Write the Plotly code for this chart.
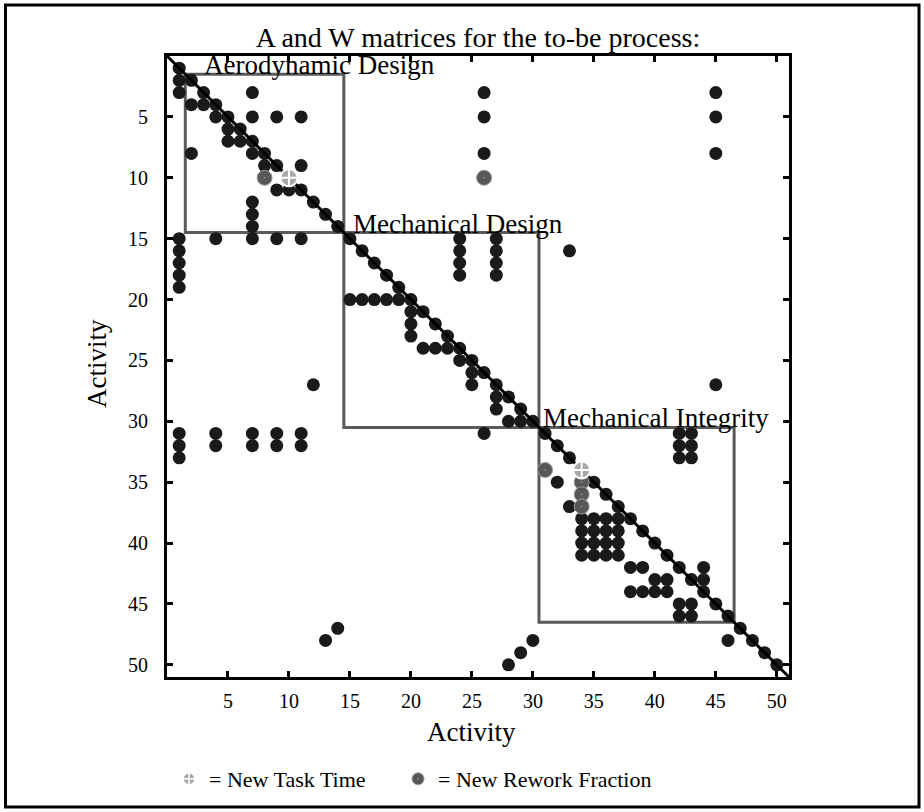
import plotly.graph_objects as go

# ---------------- data ----------------
n_activities = 50
diag_skip = [10, 34]  # diagonal cells drawn as "new task time" markers

# off-diagonal dependency dots (row = activity, col = activity)
dep_rows = [2, 3, 3, 3, 3, 4, 4, 5, 5, 5, 5, 5, 5, 6, 7, 7, 8, 8, 8, 8, 9, 9,
            11, 11, 12, 13, 14,
            15, 15, 15, 15, 15, 15, 15, 16, 16, 16, 16, 17, 17, 17, 18, 18, 18, 19,
            20, 20, 20, 20, 20, 21, 22, 23, 24, 24, 24, 25, 26, 27, 27, 27, 28, 29, 30, 30,
            31, 31, 31, 31, 31, 31, 31, 31, 32, 32, 32, 32, 32, 32, 32, 33, 33, 33,
            35, 37, 38, 38, 38, 38, 39, 39, 39, 39, 40, 40, 40, 40, 41, 41, 41, 41,
            42, 42, 42, 43, 43, 43, 44, 44, 44, 44, 45, 45, 46, 46,
            47, 48, 48, 48, 49, 50]
dep_cols = [1, 1, 7, 26, 45, 2, 3, 4, 7, 9, 11, 26, 45, 5, 5, 6, 2, 7, 26, 45, 8, 11,
            9, 10, 7, 7, 7,
            1, 4, 7, 9, 11, 24, 27, 1, 24, 27, 33, 1, 24, 27, 1, 24, 27, 1,
            15, 16, 17, 18, 19, 20, 20, 20, 21, 22, 23, 24, 25, 12, 25, 45, 27, 27, 28, 29,
            1, 4, 7, 9, 11, 26, 42, 43, 1, 4, 7, 9, 11, 42, 43, 1, 42, 43,
            32, 33, 34, 35, 36, 37, 34, 35, 36, 37, 34, 35, 36, 37, 34, 35, 36, 37,
            38, 39, 44, 40, 41, 44, 38, 39, 40, 41, 42, 43, 42, 43,
            14, 13, 30, 46, 29, 28]

# "new rework fraction" cells
rework_rows = [10, 10, 34, 35, 36, 37]
rework_cols = [8, 26, 31, 34, 34, 34]

# "new task time" cells
task_rows = [10, 34]
task_cols = [10, 34]

# block boundaries (activity index ranges) and names
block_starts = [2, 15, 31]
block_ends = [14, 30, 46]
block_names = ["Aerodynamic Design", "Mechanical Design", "Mechanical Integrity"]
block_label_x = [2.9, 15.1, 30.7]

tick_vals = [5, 10, 15, 20, 25, 30, 35, 40, 45, 50]

legend_names = ["= New Task Time", "= New Rework Fraction"]

# ---------------- figure ----------------
FONT = "Liberation Serif"
BLACK = "#1a1a1a"
BIG = 27

diag = [k for k in range(1, n_activities + 1) if k not in diag_skip]
all_rows = diag + dep_rows
all_cols = diag + dep_cols

fig = go.Figure()

fig.add_trace(go.Scatter(
    x=all_cols, y=all_rows, mode="markers",
    marker=dict(size=13, color=BLACK, line=dict(width=0)),
    showlegend=False, hoverinfo="skip"))

# diagonal line
fig.add_trace(go.Scatter(
    x=[0, n_activities + 1], y=[0, n_activities + 1], mode="lines",
    line=dict(color="black", width=3), showlegend=False, hoverinfo="skip"))

fig.add_trace(go.Scatter(
    x=rework_cols, y=rework_rows, mode="markers",
    marker=dict(size=15, color="#585858", symbol="circle-dot",
                line=dict(width=1, color="#9a9a9a")),
    showlegend=False, hoverinfo="skip"))

fig.add_trace(go.Scatter(
    x=task_cols, y=task_rows, mode="markers",
    marker=dict(size=17, color="#a8a8a8", symbol="circle-cross",
                line=dict(width=2, color="white")),
    showlegend=False, hoverinfo="skip"))

# legend-only traces
fig.add_trace(go.Scatter(
    x=[None], y=[None], mode="markers", name=legend_names[0] + "\u00a0" * 5,
    marker=dict(size=12, color="#a8a8a8", symbol="circle-cross",
                line=dict(width=1.5, color="white"))))
fig.add_trace(go.Scatter(
    x=[None], y=[None], mode="markers", name=legend_names[1],
    marker=dict(size=12, color="#585858", symbol="circle-dot",
                line=dict(width=1, color="#9a9a9a"))))

shapes = []
for s, e in zip(block_starts, block_ends):
    shapes.append(dict(type="rect", xref="x", yref="y",
                       x0=s - 0.5, x1=e + 0.5, y0=s - 0.5, y1=e + 0.5,
                       line=dict(color="#5a5a5a", width=3), layer="below"))

# outer border of the whole picture
shapes.append(dict(type="rect", xref="paper", yref="paper",
                   x0=(5.5 - 167) / 622, x1=(919 - 167) / 622,
                   y0=(677 - 807) / 621, y1=(677 - 5) / 621,
                   line=dict(color="black", width=3)))

annotations = []
for s, name, lx in zip(block_starts, block_names, block_label_x):
    annotations.append(dict(x=lx, y=s - 0.5, xref="x", yref="y", text=name,
                            showarrow=False, xanchor="left", yanchor="bottom",
                            yshift=-8, font=dict(family=FONT, size=BIG, color="black")))

annotations.append(dict(x=(471 - 167) / 622, y=(677 - 732) / 621, xref="paper", yref="paper",
                        text="Activity", showarrow=False, xanchor="center", yanchor="middle",
                        font=dict(family=FONT, size=BIG, color="black")))
annotations.append(dict(x=(97 - 167) / 622, y=(677 - 364) / 621, xref="paper", yref="paper",
                        text="Activity", showarrow=False, textangle=-90,
                        xanchor="center", yanchor="middle",
                        font=dict(family=FONT, size=BIG, color="black")))

axis_common = dict(
    tickvals=tick_vals, ticks="inside", ticklen=6, tickwidth=2.5, tickcolor="black",
    showline=True, linewidth=3, linecolor="black", mirror="ticks",
    showgrid=False, zeroline=False,
    tickfont=dict(family=FONT, size=20, color="black"))

fig.update_layout(
    width=924, height=812,
    margin=dict(l=167, r=135, t=56, b=135),
    paper_bgcolor="white", plot_bgcolor="white",
    title=dict(text="A and W matrices for the to-be process:", x=(478) / 924, xanchor="center",
               y=1 - 37 / 812, yanchor="middle",
               font=dict(family=FONT, size=28, color="black")),
    xaxis=dict(range=[0, n_activities + 1], ticklabelstandoff=4, **axis_common),
    yaxis=dict(range=[n_activities + 1, 0], ticklabelstandoff=12, **axis_common),
    shapes=shapes, annotations=annotations,
    showlegend=True,
    legend=dict(orientation="h", x=(169 - 167) / 622, xanchor="left",
                y=(677 - 779) / 621, yanchor="middle",
                font=dict(family=FONT, size=22, color="black"),
                itemwidth=30, bgcolor="rgba(0,0,0,0)"),
)

fig.write_html("out.html")
